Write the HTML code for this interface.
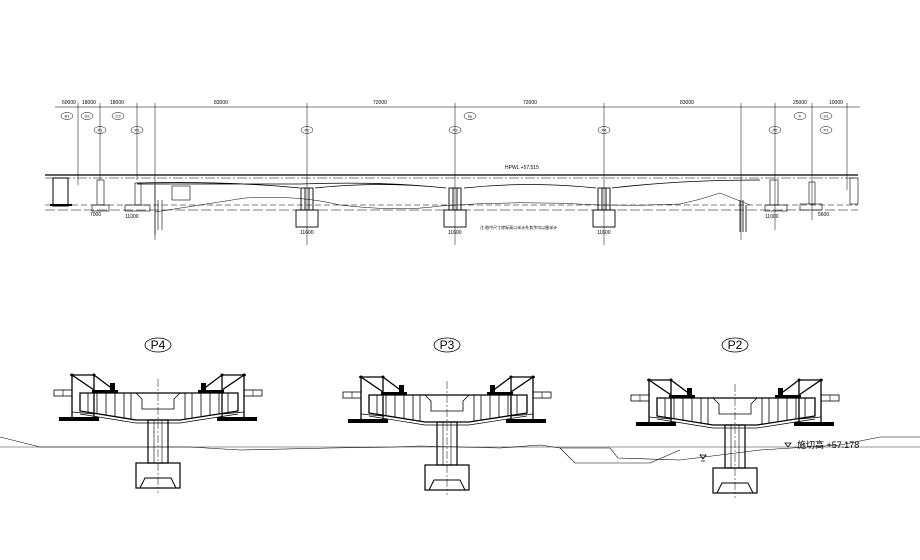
<!DOCTYPE html>
<html><head><meta charset="utf-8"><style>
html,body{margin:0;padding:0;background:#fff;}
svg{display:block;font-family:"Liberation Sans","Noto Sans CJK SC",sans-serif;}
</style></head><body>
<svg width="920" height="560" viewBox="0 0 920 560" xmlns="http://www.w3.org/2000/svg">
<defs>
<g id="pier" stroke="#000" fill="none" stroke-width="1">
  <path d="M-78 0 H80 V18 L22 27 H-22 L-78 18 Z" stroke-width="1.3"/>
  <path d="M-78 21 L-22 30 H22 L80 21" stroke-width="0.7"/>
  <path d="M-22 0 L-16 6 V16 H16 V6 L22 0" stroke-width="0.8"/>
  <g stroke-width="0.8">
    <line x1="-70" y1="0" x2="-70" y2="19"/><line x1="-61" y1="0" x2="-61" y2="21"/>
    <line x1="-52" y1="0" x2="-52" y2="22"/><line x1="-43" y1="0" x2="-43" y2="23"/>
    <line x1="-34" y1="0" x2="-34" y2="25"/><line x1="-27" y1="0" x2="-27" y2="26"/>
    <line x1="70" y1="0" x2="70" y2="19"/><line x1="61" y1="0" x2="61" y2="21"/>
    <line x1="52" y1="0" x2="52" y2="22"/><line x1="43" y1="0" x2="43" y2="23"/>
    <line x1="34" y1="0" x2="34" y2="25"/><line x1="27" y1="0" x2="27" y2="26"/>
  </g>
  <rect x="-10" y="27" width="20" height="43" stroke-width="1.2"/>
  <line x1="-4" y1="27" x2="-4" y2="70" stroke-width="0.6"/><line x1="4" y1="27" x2="4" y2="70" stroke-width="0.6"/>
  <line x1="0" y1="-14" x2="0" y2="100" stroke-width="0.5" stroke-dasharray="8 2 2 2"/>
  <rect x="-22" y="70" width="44" height="25" stroke-width="1.2"/>
  <path d="M-18 95 L-13 85 H13 L18 95" stroke-width="1"/>
  <g stroke-width="1.3">
    <line x1="-88" y1="-18" x2="-64" y2="-18"/>
    <line x1="-86" y1="-18" x2="-86" y2="26"/><line x1="-64" y1="-18" x2="-64" y2="26"/>
    <line x1="-86" y1="-18" x2="-64" y2="-3"/><line x1="-64" y1="-18" x2="-44" y2="-3"/>
    <line x1="88" y1="-18" x2="64" y2="-18"/>
    <line x1="86" y1="-18" x2="86" y2="26"/><line x1="64" y1="-18" x2="64" y2="26"/>
    <line x1="86" y1="-18" x2="64" y2="-3"/><line x1="64" y1="-18" x2="44" y2="-3"/>
  </g>
  <g fill="#000" stroke="none">
    <circle cx="-86" cy="-18" r="1.5"/><circle cx="-64" cy="-18" r="1.5"/>
    <circle cx="86" cy="-18" r="1.5"/><circle cx="64" cy="-18" r="1.5"/>
    <rect x="-66" y="-3" width="26" height="3"/><rect x="40" y="-3" width="26" height="3"/>
    <rect x="-48" y="-10" width="5" height="7"/><rect x="43" y="-10" width="5" height="7"/>
    <rect x="-99" y="24" width="40" height="4"/><rect x="59" y="24" width="40" height="4"/>
  </g>
  <rect x="-104" y="-3" width="18" height="6" stroke-width="0.8"/>
  <line x1="-95" y1="-3" x2="-95" y2="3" stroke-width="0.6"/>
  <rect x="86" y="-3" width="18" height="6" stroke-width="0.8"/>
  <line x1="95" y1="-3" x2="95" y2="3" stroke-width="0.6"/>
  <line x1="-86" y1="19" x2="-64" y2="21" stroke-width="0.8"/>
  <line x1="86" y1="19" x2="64" y2="21" stroke-width="0.8"/>
</g>
</defs>

<g stroke="#000" fill="none" stroke-width="0.6">
  <line x1="55" y1="107" x2="860" y2="107"/>
  <g stroke-width="0.5">
    <line x1="78" y1="103" x2="78" y2="185"/><line x1="100" y1="103" x2="100" y2="180"/>
    <line x1="137" y1="103" x2="137" y2="180"/><line x1="155" y1="103" x2="155" y2="240"/>
    <line x1="307" y1="103" x2="307" y2="245"/><line x1="455" y1="103" x2="455" y2="245"/>
    <line x1="604" y1="103" x2="604" y2="245"/><line x1="741" y1="103" x2="741" y2="240"/>
    <line x1="775" y1="103" x2="775" y2="230"/><line x1="812" y1="103" x2="812" y2="220"/>
    <line x1="847" y1="103" x2="847" y2="190"/>
  </g>
  <line x1="45" y1="175" x2="858" y2="175" stroke-width="1.2"/>
  <line x1="45" y1="178" x2="858" y2="178" stroke-width="0.6" stroke-dasharray="10 2 2 2"/>
  <path d="M137 184 L300 184 Q380 181 446 188 M300 188 Q230 181 137 183 M315 188 Q380 181 446 188 M464 188 Q530 181 596 188 M612 188 Q680 180 760 180" stroke-width="0.8"/>
  <line x1="45" y1="205" x2="858" y2="205" stroke-dasharray="6 3" stroke-width="0.6"/>
  <line x1="45" y1="210" x2="858" y2="210" stroke-dasharray="10 3" stroke-width="0.6"/>
  <path d="M155 212 Q200 205 245 198 Q300 195 340 205 Q400 212 440 206 Q520 200 600 205 Q640 206 680 204 Q700 200 720 193 L750 205" stroke-width="0.5"/>
  <g stroke-width="0.9">
    <rect x="301" y="188" width="12" height="22"/><rect x="296" y="210" width="22" height="17"/>
    <rect x="449" y="188" width="12" height="22"/><rect x="444" y="210" width="22" height="17"/>
    <rect x="598" y="188" width="12" height="22"/><rect x="593" y="210" width="22" height="17"/>
    <line x1="305" y1="188" x2="305" y2="210"/><line x1="309" y1="188" x2="309" y2="210"/>
    <line x1="453" y1="188" x2="453" y2="210"/><line x1="457" y1="188" x2="457" y2="210"/>
    <line x1="602" y1="188" x2="602" y2="210"/><line x1="606" y1="188" x2="606" y2="210"/>
  </g>
  <rect x="53" y="178" width="15" height="28" stroke-width="1"/>
  <line x1="50" y1="205" x2="72" y2="205" stroke-width="2"/>
  <rect x="97" y="180" width="7" height="25"/><rect x="92" y="205" width="17" height="6"/>
  <rect x="135" y="183" width="6" height="22"/><rect x="125" y="205" width="25" height="6"/>
  <rect x="172" y="186" width="18" height="14"/>
  <path d="M155 185 V235 M158 200 V230 M162 200 V230" stroke-width="0.6"/>
  <rect x="770" y="180" width="8" height="25"/><rect x="765" y="205" width="22" height="6"/>
  <rect x="809" y="182" width="6" height="22"/><rect x="800" y="204" width="22" height="6"/>
  <rect x="850" y="178" width="8" height="26"/>
  <path d="M740 200 V232 M743 200 V232 M746 205 V232" stroke-width="0.8"/>
</g>
<g font-size="5" fill="#000">
  <text x="62" y="104">60000</text><text x="82" y="104">18000</text><text x="110" y="104">18000</text>
  <text x="214" y="104">83000</text><text x="373" y="104">72000</text><text x="523" y="104">72000</text>
  <text x="680" y="104">83000</text><text x="793" y="104">25000</text><text x="829" y="104">10000</text>
  <text x="300" y="234">11600</text><text x="448" y="234">11600</text><text x="597" y="234">11600</text>
  <text x="125" y="218">11000</text><text x="90" y="216">7000</text><text x="765" y="218">11000</text><text x="818" y="216">5600</text>
  <text x="505" y="169">HPWL +57.515</text><text x="480" y="229" font-size="4">注:图中尺寸除标高以米计外其余均以厘米计</text>
</g>
<g fill="none" stroke="#000" stroke-width="0.5">
  <ellipse cx="67" cy="116" rx="6" ry="3.5"/><ellipse cx="87" cy="116" rx="6" ry="3.5"/>
  <ellipse cx="118" cy="116" rx="6" ry="3.5"/><ellipse cx="100" cy="130" rx="6" ry="3.5"/>
  <ellipse cx="137" cy="130" rx="6" ry="3.5"/><ellipse cx="307" cy="130" rx="6" ry="3.5"/>
  <ellipse cx="455" cy="130" rx="6" ry="3.5"/><ellipse cx="470" cy="116" rx="6" ry="3.5"/>
  <ellipse cx="604" cy="130" rx="6" ry="3.5"/><ellipse cx="775" cy="130" rx="6" ry="3.5"/>
  <ellipse cx="800" cy="116" rx="6" ry="3.5"/><ellipse cx="826" cy="116" rx="6" ry="3.5"/>
  <ellipse cx="826" cy="130" rx="6" ry="3.5"/>
</g>
<g font-size="4" fill="#000" text-anchor="middle">
  <text x="67" y="117.5">B1</text><text x="87" y="117.5">D2</text><text x="118" y="117.5">C3</text>
  <text x="100" y="131.5">P1</text><text x="137" y="131.5">P1</text><text x="307" y="131.5">P2</text>
  <text x="455" y="131.5">P3</text><text x="470" y="117.5">bp</text><text x="604" y="131.5">P4</text>
  <text x="775" y="131.5">P5</text><text x="800" y="117.5">b</text><text x="826" y="117.5">D1</text>
  <text x="826" y="131.5">P1</text>
</g>

<path d="M0 437 L40 447 L190 447 L240 450 L330 448 L395 447 L420 446 L500 448 L540 445 L560 448 L610 448 L618 458 L680 460 L720 455 L760 450 L840 445 L880 437 L920 437" fill="none" stroke="#000" stroke-width="0.6"/>
<path d="M560 448 L575 463 L650 463 L680 450" fill="none" stroke="#000" stroke-width="0.6"/>
<line x1="0" y1="447" x2="920" y2="447" stroke="#000" stroke-width="0.4"/>

<use href="#pier" x="158" y="393"/>
<use href="#pier" x="447" y="395"/>
<use href="#pier" x="735" y="398"/>

<g fill="none" stroke="#000" stroke-width="0.8">
  <ellipse cx="158" cy="345" rx="13" ry="7"/>
  <ellipse cx="447" cy="345" rx="13" ry="7"/>
  <ellipse cx="735" cy="345" rx="13" ry="7"/>
  <path d="M785 443 L791 443 L788 447 Z"/>
  <path d="M700 455 L706 455 L703 459 Z M701 461 H705"/>
</g>
<g font-size="12" fill="#000" text-anchor="middle">
  <text x="158" y="349">P4</text><text x="447" y="349">P3</text><text x="735" y="349">P2</text>
</g>
<text x="797" y="448" font-size="9" fill="#000">施切高  +57.178</text>
</svg>
</body></html>
